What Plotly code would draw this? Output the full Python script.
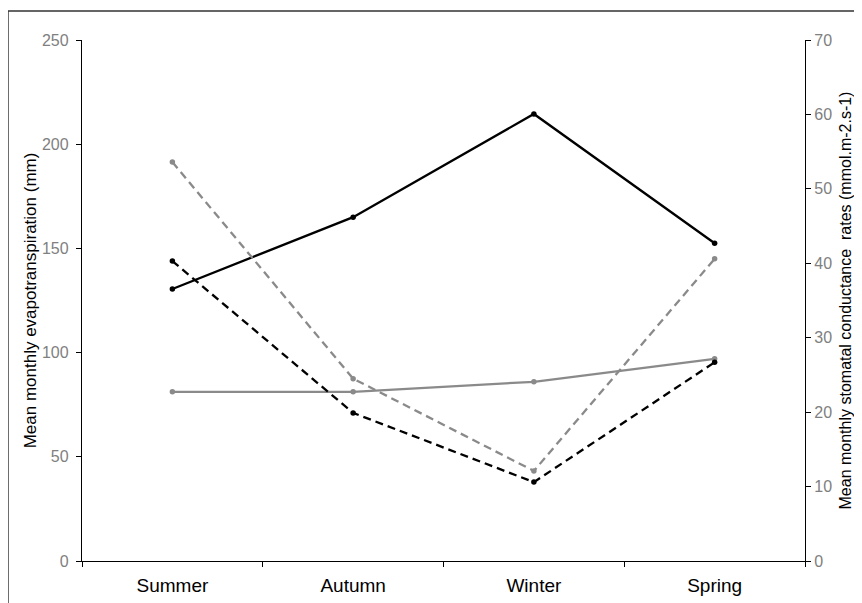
import plotly.graph_objects as go

seasons = ["Summer", "Autumn", "Winter", "Spring"]
# Left axis: mean monthly evapotranspiration (mm)
et_black = [130.5, 165, 214.5, 152.5]
et_gray = [81.2, 81.2, 86, 97]
# Right axis: mean monthly stomatal conductance rates (mmol.m-2.s-1)
gs_black = [40.3, 19.9, 10.6, 26.7]
gs_gray = [53.6, 24.5, 12.1, 40.6]

BLACK = "#000000"
GRAY = "#8a8a8a"
DASH = "8px,5px"
FONT = "Liberation Sans, Arial, sans-serif"

fig = go.Figure()
fig.add_trace(go.Scatter(x=seasons, y=gs_gray, mode="lines+markers", yaxis="y2",
                         line=dict(color=GRAY, width=2.3, dash=DASH),
                         marker=dict(color=GRAY, size=5.5), showlegend=False))
fig.add_trace(go.Scatter(x=seasons, y=gs_black, mode="lines+markers", yaxis="y2",
                         line=dict(color=BLACK, width=2.3, dash=DASH),
                         marker=dict(color=BLACK, size=5.5), showlegend=False))
fig.add_trace(go.Scatter(x=seasons, y=et_gray, mode="lines+markers",
                         line=dict(color=GRAY, width=2.3),
                         marker=dict(color=GRAY, size=5.5), showlegend=False))
fig.add_trace(go.Scatter(x=seasons, y=et_black, mode="lines+markers",
                         line=dict(color=BLACK, width=2.3),
                         marker=dict(color=BLACK, size=5.5), showlegend=False))

tickfont = dict(family=FONT, size=16, color="#808080")

fig.update_layout(
    width=862, height=603,
    margin=dict(l=74, r=65, t=32, b=50, autoexpand=False),
    paper_bgcolor="white", plot_bgcolor="white",
    xaxis=dict(type="category", range=[-0.5, 3.5], tickson="boundaries",
               ticks="outside", ticklen=5, tickcolor="#000", tickwidth=1.3,
               showline=True, linecolor="#000", linewidth=1.3, showgrid=False,
               zeroline=False, automargin=False, ticklabelstandoff=7,
               tickfont=dict(family=FONT, size=19, color="#000")),
    yaxis=dict(range=[0, 250], dtick=50, ticks="outside", ticklen=5,
               tickcolor="#000", tickwidth=1.3, showline=True, linecolor="#000",
               linewidth=1.3, showgrid=False, zeroline=False, tickfont=tickfont,
               ticklabelstandoff=4, automargin=False,
               title=dict(text="Mean monthly evapotranspiration (mm)",
                          font=dict(family=FONT, size=17, color="#000"),
                          standoff=0)),
    yaxis2=dict(range=[0, 70], dtick=10, overlaying="y", side="right",
                ticks="outside", ticklen=5, tickcolor="#000", tickwidth=1.3,
                showline=True, linecolor="#000", linewidth=1.3, showgrid=False,
                zeroline=False, tickfont=tickfont, automargin=False,
                title=dict(text="Mean monthly stomatal conductance  rates (mmol.m-2.s-1)",
                           font=dict(family=FONT, size=16, color="#000"),
                           standoff=8)),
    shapes=[dict(type="rect", xref="paper", yref="paper",
                 x0=-0.1024, x1=1.09, y0=-0.094, y1=1.0557,
                 line=dict(color="#333", width=1.5))],
)

fig.write_html("out.html")
